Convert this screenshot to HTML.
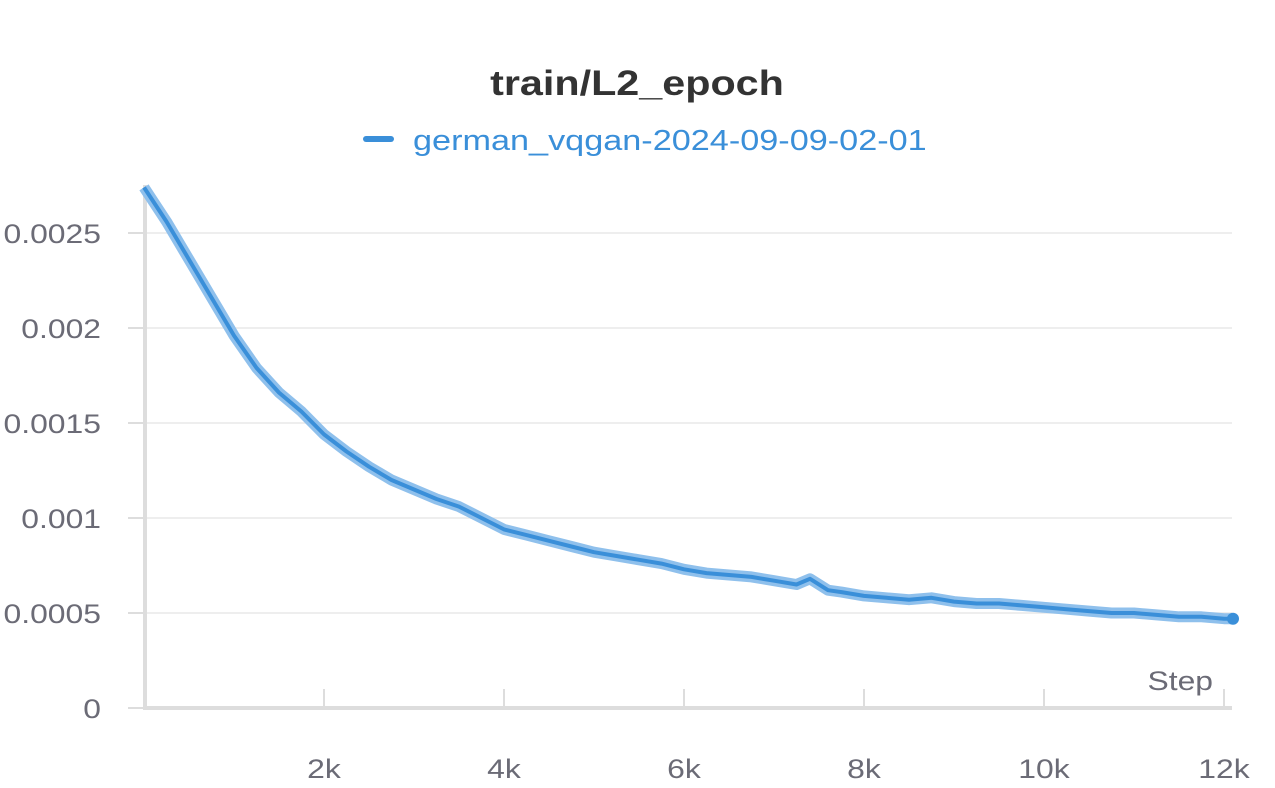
<!DOCTYPE html>
<html><head><meta charset="utf-8"><style>
body{margin:0;background:#fff;width:1275px;height:783px;overflow:hidden;font-family:"Liberation Sans",sans-serif}
</style></head><body>
<svg width="1275" height="783">
<text class="st" x="637" y="95" text-anchor="middle" font-size="35" font-weight="bold" fill="#333">train/L2_epoch</text>
<g>
<line x1="366" y1="139" x2="391" y2="139" stroke="#3a8fd9" stroke-width="6" stroke-linecap="round"/>
<text class="st" x="413" y="150" font-size="29" fill="#3a8fd9">german_vqgan-2024-09-09-02-01</text>
</g>
<g id="grid"></g>
<g id="axes"></g>
<g id="series"></g>
<text class="st" x="1213" y="690" text-anchor="end" font-size="27" fill="#6b6b76">Step</text>
</svg>
<script>
const steps=[0,0.25,0.5,0.75,1,1.25,1.5,1.75,2,2.25,2.5,2.75,3,3.25,3.5,3.75,4,4.25,4.5,4.75,5,5.25,5.5,5.75,6,6.25,6.5,6.75,7,7.25,7.4,7.6,7.75,8,8.25,8.5,8.75,9,9.25,9.5,9.75,10,10.25,10.5,10.75,11,11.25,11.5,11.75,12,12.1];
const values=[27.4,25.6,23.6,21.6,19.6,17.9,16.6,15.6,14.4,13.5,12.7,12.0,11.5,11.0,10.6,10.0,9.4,9.1,8.8,8.5,8.2,8.0,7.8,7.6,7.3,7.1,7.0,6.9,6.7,6.5,6.8,6.2,6.1,5.9,5.8,5.7,5.8,5.6,5.5,5.5,5.4,5.3,5.2,5.1,5.0,5.0,4.9,4.8,4.8,4.7,4.7];
const yTicks=[0,5,10,15,20,25];
const yTickLabels=["0","0.0005","0.001","0.0015","0.002","0.0025"];
const xTicks=[2,4,6,8,10,12];
const xTickLabels=["2k","4k","6k","8k","10k","12k"];
const NS="http://www.w3.org/2000/svg";
const X=v=>144+v*90, Y=v=>708-v*19;
function mk(t,a,p){const e=document.createElementNS(NS,t);for(const k in a)e.setAttribute(k,a[k]);p.appendChild(e);return e;}
const grid=document.getElementById('grid'),axes=document.getElementById('axes'),series=document.getElementById('series');
yTicks.forEach((v,i)=>{
 if(v>0){const g=mk('line',{x1:146,x2:1232,y1:Y(v),y2:Y(v),stroke:'#e8e8e8','stroke-width':1.5},grid);
 }
 const t=mk('line',{x1:128,x2:144,y1:Y(v),y2:Y(v),stroke:'#ddd','stroke-width':2},axes);
 
 const l=mk('text',{class:'st',x:101,y:Y(v)+10,'text-anchor':'end','font-size':27,fill:'#6b6b76'},axes);l.textContent=yTickLabels[i];
 
});
xTicks.forEach((v,i)=>{
 const t=mk('line',{x1:X(v),x2:X(v),y1:689,y2:708,stroke:'#ddd','stroke-width':2},axes);
 
 const l=mk('text',{class:'st',x:X(v),y:778,'text-anchor':'middle','font-size':27,fill:'#6b6b76'},axes);l.textContent=xTickLabels[i];
 
});
const ya=mk('line',{x1:145,x2:145,y1:185,y2:710,stroke:'#ddd','stroke-width':4},axes);

const xa=mk('line',{x1:143,x2:1232,y1:708,y2:708,stroke:'#ddd','stroke-width':4},axes);

const d=steps.map((s,i)=>(i?'L':'M')+X(s).toFixed(1)+','+Y(values[i]).toFixed(1)).join(' ');
const band=mk('path',{d:d,fill:'none',stroke:'#8fc0ec','stroke-width':11,'stroke-linejoin':'round'},series);

const line=mk('path',{d:d,fill:'none',stroke:'#3a8fd9','stroke-width':4,'stroke-linejoin':'round'},series);

const n=steps.length-1;
const dot=mk('circle',{cx:X(steps[n]),cy:Y(values[n]),r:6,fill:'#3a8fd9'},series);

document.querySelectorAll('.st').forEach(t=>{
 const w=t.getComputedTextLength();
 t.setAttribute('textLength',(w*1.18).toFixed(1));
 t.setAttribute('lengthAdjust','spacingAndGlyphs');
});
</script>
</body></html>
